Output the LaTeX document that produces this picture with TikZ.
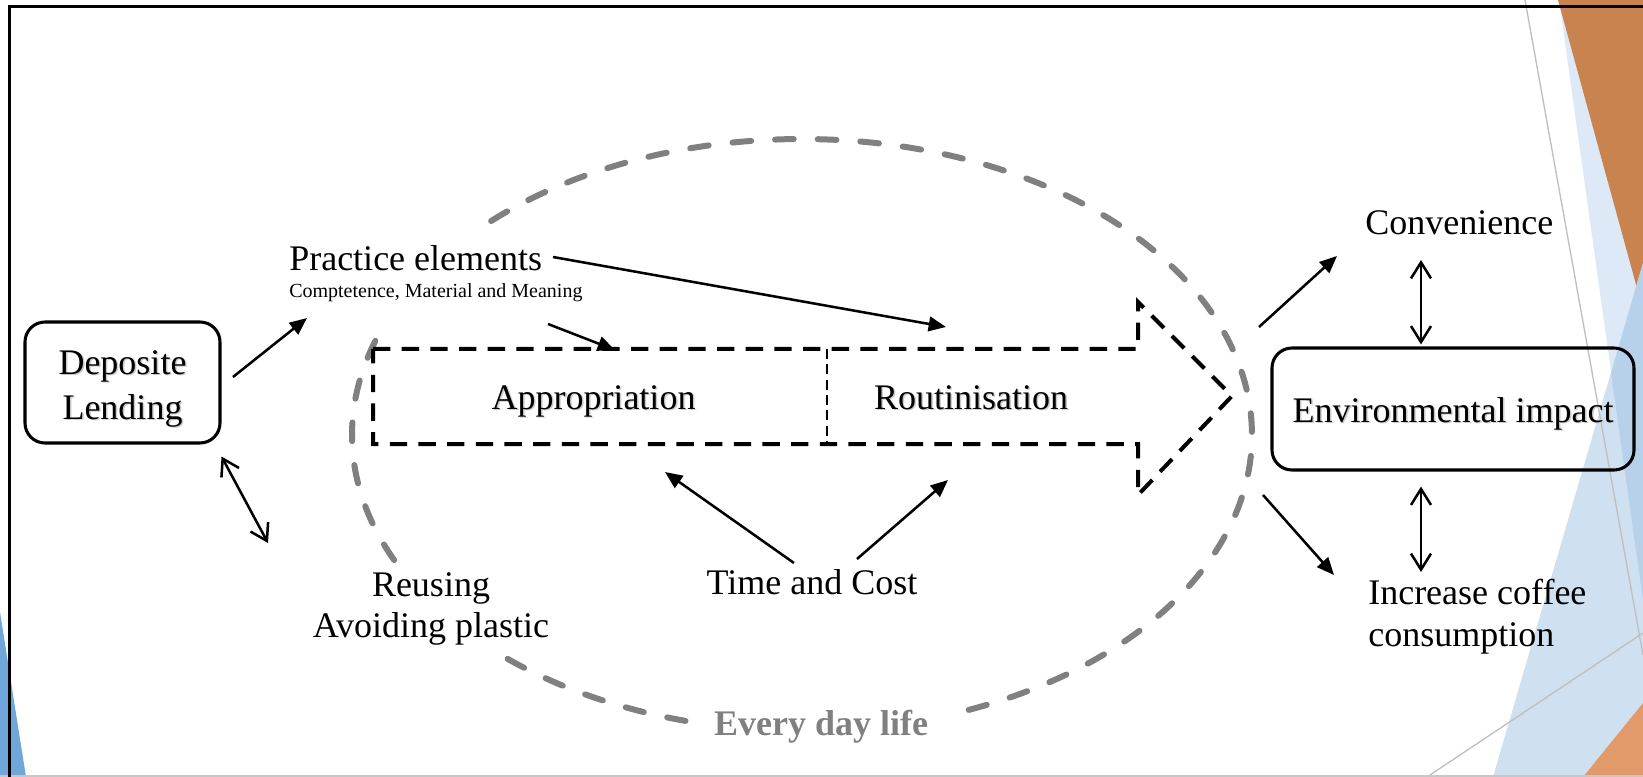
\documentclass[tikz,border=0pt]{standalone}
\usepackage{fontspec}
\setmainfont{Liberation Serif}
\usetikzlibrary{arrows.meta}
\definecolor{ringgray}{HTML}{808080}
\definecolor{wedgeblue}{HTML}{DDE9F6}
\definecolor{paleblue}{HTML}{CFE0F1}
\definecolor{midblue}{HTML}{B8D1EA}
\definecolor{deeporange}{HTML}{C8834F}
\definecolor{softorange}{HTML}{E29A6A}
\definecolor{sideblue}{HTML}{6FA7DB}
\definecolor{thinline}{HTML}{BFBFBF}
\tikzset{
  txt/.style={inner sep=0pt, font=\fontsize{27}{32}\selectfont},
  small/.style={inner sep=0pt, font=\fontsize{15}{18}\selectfont},
  boxed/.style={draw, line width=2.3pt, rounded corners=15pt, inner sep=0pt},
  shade/.style={text=black!20},
  arr/.style={line width=1.9pt, -{Triangle[length=13pt,width=11pt]}},
  dbl/.style={line width=1.9pt,
    {Straight Barb[length=12pt,width=15pt]}-{Straight Barb[length=12pt,width=15pt]}},
  ring/.style={draw=ringgray, line width=4.5pt, line cap=round,
    dash pattern=on 14pt off 18pt},
  blockdash/.style={line width=3pt, dash pattern=on 13pt off 8.5pt},
  divdash/.style={line width=1.5pt, dash pattern=on 7.5pt off 4pt},
}
\begin{document}
\begin{tikzpicture}[x=0.75pt,y=-0.75pt]
\useasboundingbox (0,0) rectangle (1643,777);
\fill[white] (0,0) rectangle (1643,777);

% slide decoration on the right and lower left
\fill[wedgeblue] (1559,0) -- (1643,0) -- (1643,600) -- cycle;
\fill[deeporange] (1558,0) -- (1643,0) -- (1643,310) -- cycle;
\fill[paleblue] (1493,777) -- (1643,263) -- (1643,777) -- cycle;
\fill[midblue] (1643,263) -- (1611,373) -- (1643,600) -- cycle;
\fill[softorange] (1583,777) -- (1643,703) -- (1643,777) -- cycle;
\draw[thinline, line width=1pt] (1525,0) -- (1643,655);
\draw[thinline, line width=1pt] (1427,777) -- (1643,633);
\fill[sideblue] (0,612) -- (26,777) -- (0,777) -- cycle;
\draw[black!22, line width=1.2pt] (0,776) -- (1643,776);
\draw[line width=2.6pt] (9.5,777) -- (9.5,6.5) -- (1643,6.5);

% everyday-life ring, broken where labels sit
\draw[ring] plot[domain=226.3:431, samples=160] ({802+450*cos(\x)},{435+296*sin(\x)});
\draw[ring] plot[domain=105:132, samples=30] ({802+450*cos(\x)},{435+296*sin(\x)});
\draw[ring] plot[domain=155:198.7, samples=50] ({802+450*cos(\x)},{435+296*sin(\x)});

% dashed block arrow with its two stages
\draw[blockdash] (373,349) -- (1138,349) -- (1138,302) -- (1232,396)
  -- (1138,495) -- (1138,444) -- (373,444) -- cycle;
\draw[divdash] (827,349) -- (827,445);

% rounded boxes and their labels
\node[boxed, minimum width=146.25pt, minimum height=90.75pt] (dep) at (122.5,382.5) {};
\node[txt, shade, align=center, font=\fontsize{27}{33.75}\selectfont] at (124,390) {Deposite\\Lending};
\node[txt, align=center, font=\fontsize{27}{33.75}\selectfont] (deptxt) at (122.5,388.5) {Deposite\\Lending};
\node[boxed, minimum width=271.5pt, minimum height=91.5pt] (env) at (1453,409) {};
\node[txt, shade, anchor=base] at (1454.5,423.5) {Environmental impact};
\node[txt, anchor=base] (envtxt) at (1453,422) {Environmental impact};

% stage labels
\node[txt, shade, anchor=base] at (595,410.5) {Appropriation};
\node[txt, anchor=base] (appr) at (593.5,409) {Appropriation};
\node[txt, shade, anchor=base] at (972.5,410.5) {Routinisation};
\node[txt, anchor=base] (rout) at (971,409) {Routinisation};

\node[txt, anchor=base west] (pe) at (289,271) {Practice elements};
\node[small, anchor=base west] (pesub) at (289,298) {Comptetence, Material and Meaning};
\node[txt, anchor=base west] (conv) at (1365,235) {Convenience};
\node[txt, align=left, anchor=north west, font=\fontsize{27}{31.5}\selectfont] (coffee)
  at (1368,578.5) {Increase coffee\\consumption};
\node[txt, align=center, anchor=north, font=\fontsize{27}{30.75}\selectfont] (reuse)
  at (431,572.5) {Reusing\\Avoiding plastic};
\node[txt, anchor=base] (tc) at (812,594) {Time and Cost};
\node[txt, anchor=base, text=ringgray, font=\bfseries\fontsize{27}{32}\selectfont] (life)
  at (821,735) {Every day life};

% connector ends
\coordinate (dep-out) at (233,377);
\coordinate (pe-in) at (307,318);
\coordinate (pe-out) at (553,257);
\coordinate (rout-in) at (946,327);
\coordinate (sub-out) at (548,324);
\coordinate (appr-in) at (615,350);
\coordinate (tc-left) at (794,563);
\coordinate (appr-low) at (665,472);
\coordinate (tc-right) at (857,559);
\coordinate (rout-low) at (948,480);
\coordinate (ring-up) at (1259,327);
\coordinate (conv-in) at (1337,256);
\coordinate (ring-down) at (1263,495);
\coordinate (coffee-in) at (1334,575);
\coordinate (reuse-in) at (268,543);
\coordinate (conv-low) at (1421,260);
\coordinate (coffee-top) at (1421,572);

\draw[arr] (dep-out) -- (pe-in);
\draw[arr] (pe-out) -- (rout-in);
\draw[arr] (sub-out) -- (appr-in);
\draw[arr] (tc-left) -- (appr-low);
\draw[arr] (tc-right) -- (rout-low);
\draw[arr] (ring-up) -- (conv-in);
\draw[arr] (ring-down) -- (coffee-in);

\draw[dbl] ([shift={(0,12)}]dep.south east) -- (reuse-in);
\draw[dbl] (conv-low) -- ([shift={(-32,-2)}]env.north);
\draw[dbl] ([shift={(-32,15)}]env.south) -- (coffee-top);
\end{tikzpicture}
\end{document}
